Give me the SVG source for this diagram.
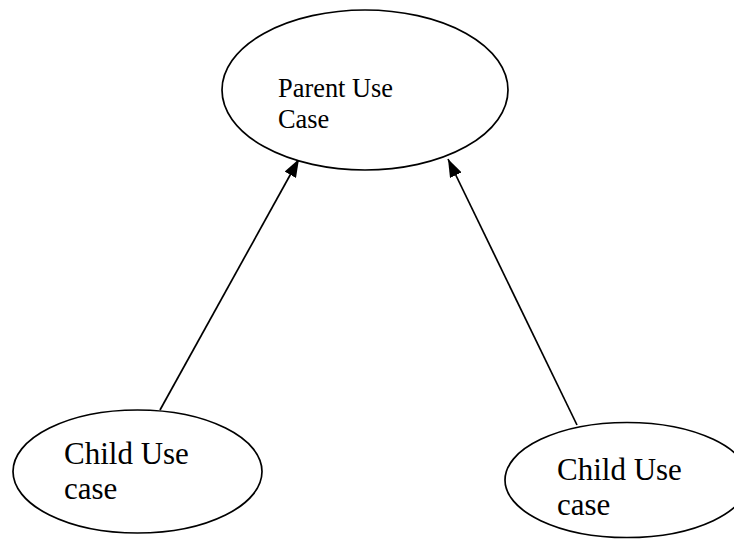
<svg xmlns="http://www.w3.org/2000/svg" width="734" height="539" viewBox="0 0 734 539">
<style>
.uc{fill:#fff;stroke:#000;stroke-width:1.7}
.t{font-family:"Liberation Serif","Times New Roman",serif;fill:#000}
.p{font-size:26.4px}
.c{font-size:31px}
.ln{stroke:#000;stroke-width:1.7;fill:none}
</style>
<defs>
<marker id="ah" viewBox="0 0 18 13" refX="18" refY="6.5" markerWidth="18" markerHeight="13" markerUnits="userSpaceOnUse" orient="auto">
<path d="M0,0 L18,6.5 L0,13 Z" fill="#000"/>
</marker>
</defs>
<rect width="734" height="539" fill="#fff"/>
<g id="connectors">
<line class="ln" x1="160" y1="410" x2="299" y2="159" marker-end="url(#ah)"/>
<line class="ln" x1="577" y1="425" x2="448" y2="159" marker-end="url(#ah)"/>
</g>
<g id="parent">
<ellipse class="uc" cx="365" cy="90" rx="143" ry="80"/>
<text class="t p" x="278" y="97">Parent Use</text>
<text class="t p" x="278" y="128">Case</text>
</g>
<g id="child1">
<ellipse class="uc" cx="137.5" cy="471.5" rx="124.5" ry="61.5"/>
<text class="t c" x="64" y="464">Child Use</text>
<text class="t c" x="64" y="499">case</text>
</g>
<g id="child2">
<ellipse class="uc" cx="627" cy="480" rx="122" ry="57.5"/>
<text class="t c" x="557" y="480">Child Use</text>
<text class="t c" x="557" y="515">case</text>
</g>
</svg>
